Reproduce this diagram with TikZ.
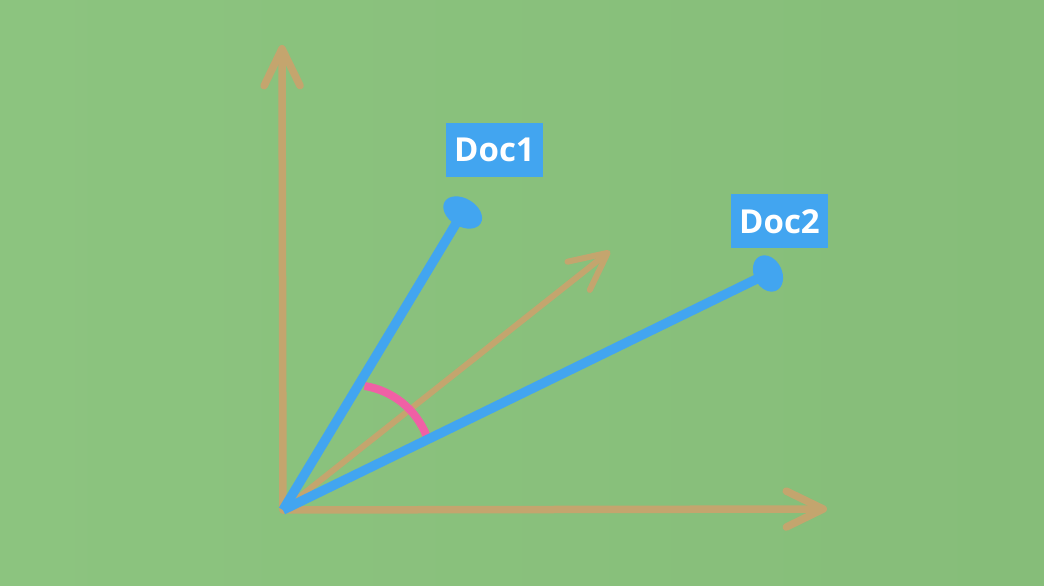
\documentclass[tikz,border=0pt]{standalone}
\usepackage{fontspec}
\newfontfamily\labelfont{Open Sans}
\usetikzlibrary{arrows.meta}
\definecolor{bggreen}{RGB}{140,196,127}
\definecolor{bgdark}{RGB}{134,189,121}
\definecolor{axistan}{RGB}{196,165,110}
\definecolor{docblue}{RGB}{66,165,240}
\definecolor{anglepink}{RGB}{240,96,165}

\begin{document}
\begin{tikzpicture}[x=1pt,y=1pt,
    axis/.style={draw=axistan,line width=7.5pt,line cap=round,-{Straight Barb[length=37pt,width=36pt,round]}},
    docvec/.style={draw=docblue,line width=9.5pt},
    doclabel/.style={fill=docblue,text=white,font=\labelfont\bfseries\fontsize{33}{39}\selectfont,
        minimum width=97pt,minimum height=54pt,inner sep=0pt}]
    \useasboundingbox (0,0) rectangle (1044,586);
    \shade[left color=bggreen,right color=bgdark] (0,0) rectangle (1044,586);
    % axes
    \coordinate (O) at (283,76);
    \coordinate (ytip) at (282,541);
    \coordinate (xtip) at (827,77);
    \coordinate (dtip) at (610,335);
    \draw[axis] (O) -- (ytip);
    \draw[axis] (O) -- (xtip);
    \draw[axis,line width=6pt] (O) -- (dtip);
    % angle between the documents
    \coordinate (arcc) at (352,121);
    \draw[anglepink,line width=8pt] (arcc) ++(81:80) arc[start angle=81,end angle=21,radius=80];
    % document vectors
    \coordinate (e1) at (462.7,373.5);
    \coordinate (e2) at (768,312.5);
    \draw[docvec] (O) -- (e1);
    \draw[docvec] (O) -- (e2);
    \fill[docblue] (e1) ellipse[x radius=21,y radius=14,rotate=-31];
    \fill[docblue] (e2) ellipse[x radius=19,y radius=14,rotate=-64];
    \node[doclabel] (doc1) at (494.5,436) {Doc1};
    \node[doclabel] (doc2) at (779.5,364.5) {Doc2};
\end{tikzpicture}
\end{document}
